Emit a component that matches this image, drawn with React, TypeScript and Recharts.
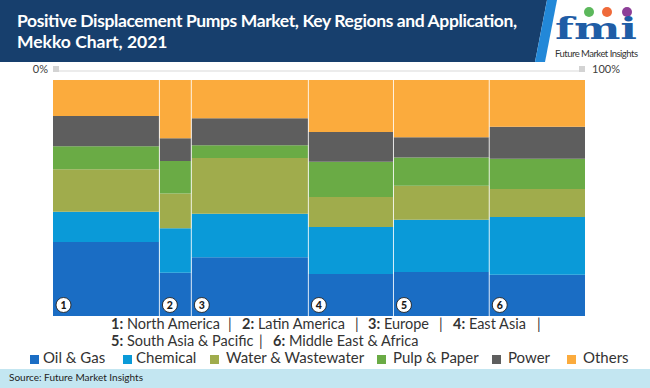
import { ComposedChart, Area, XAxis, YAxis, ReferenceLine, ReferenceDot } from 'recharts';

// regions in column order, with their share of the total market (column widths, %)
const regions = ['North America', 'Latin America', 'Europe', 'East Asia', 'South Asia & Pacific', 'Middle East & Africa'];
const regionShare = [20, 6, 22, 16, 18, 18];

// application split inside every region (%), read bottom to top
const oilGas = [31.4, 18.3, 24.9, 17.8, 18.6, 17.5];
const chemical = [12.8, 18.9, 18.4, 19.9, 22.2, 24.4];
const waterWastewater = [18.0, 14.7, 23.7, 12.7, 14.4, 11.9];
const pulpPaper = [9.7, 13.8, 5.4, 15.0, 12.0, 12.8];
const power = [12.8, 9.6, 11.4, 12.6, 8.5, 13.6];
const others = [15.3, 24.7, 16.2, 22.0, 24.3, 19.8];

const axisTicks = [0, 100];

const series = [
  { key: 'oil', name: 'Oil & Gas', values: oilGas, color: '#1a6dc4' },
  { key: 'chemical', name: 'Chemical', values: chemical, color: '#0a9ad8' },
  { key: 'water', name: 'Water & Wastewater', values: waterWastewater, color: '#a0ac4c' },
  { key: 'pulp', name: 'Pulp & Paper', values: pulpPaper, color: '#6aab45' },
  { key: 'power', name: 'Power', values: power, color: '#5e5e5e' },
  { key: 'others', name: 'Others', values: others, color: '#fbab3d' },
];

const starts = regionShare.map((_, i) => regionShare.slice(0, i).reduce((s, v) => s + v, 0));

const rows = regions.map((region, i) => {
  const row: Record<string, number | string> = { x: starts[i], region };
  series.forEach((s) => { row[s.key] = s.values[i]; });
  return row;
});
// closing point so the last step reaches 100%
const data = [...rows, { ...rows[rows.length - 1], x: 100 }];

const FONT = 'Lato, "Open Sans", sans-serif';

function EdgeTick(props: any) {
  const { x, y, payload } = props;
  const left = payload.value === 0;
  return (
    <g>
      <rect x={left ? x : x - 6} y={y - 3} width={6} height={6} fill="#d3d3d3" />
      <text
        x={left ? x - 5 : x + 7}
        y={y + 4}
        textAnchor={left ? 'end' : 'start'}
        fontSize={11}
        fontFamily={FONT}
        fill="#404040"
      >
        {payload.value}%
      </text>
    </g>
  );
}

function RegionBadge(n: number) {
  return (p: any) => (
    <g>
      <circle cx={p.cx + 10.5} cy={p.cy - 11} r={7.5} fill="#fff" stroke="#222" strokeWidth={0.9} />
      <text
        x={p.cx + 10.5}
        y={p.cy - 7.3}
        textAnchor="middle"
        fontSize={10.5}
        fontWeight={900}
        fontFamily={FONT}
        fill="#1a1a1a"
      >
        {n}
      </text>
    </g>
  );
}

// region key text, two rows
const keyRows = [
  { y: 329, items: [0, 1, 2, 3], x: [111, 242, 368, 453], bars: [228, 355, 439, 537] },
  { y: 346, items: [4, 5], x: [111, 273], bars: [259] },
];
const legendSquareX = [30, 123, 210, 377, 492, 567];
const legendTextX = [43, 136, 226, 393, 508, 583];

export default function App() {
  return (
    <div style={{ position: 'fixed', left: 0, top: 0, width: 650, height: 388, background: '#fff', overflow: 'hidden' }}>
      <svg width={650} height={388} style={{ position: 'absolute', left: 0, top: 0 }}>
        <polygon points="0,0 547,0 535,62 0,62" fill="#173f6d" />
        <polygon points="547,0 557,0 545,62 535,62" fill="#2288d8" />
        <text x={17} y={27} fontSize={17.5} fontWeight={700} fontFamily={FONT} fill="#fff" textLength={500}>
          Positive Displacement Pumps Market, Key Regions and Application,
        </text>
        <text x={17} y={48} fontSize={17.5} fontWeight={700} fontFamily={FONT} fill="#fff">
          Mekko Chart, 2021
        </text>

        <circle cx={589} cy={12} r={5} fill="#5cb85c" />
        <circle cx={607} cy={12} r={5} fill="#ef6a3a" />
        <circle cx={627} cy={12} r={5} fill="#8d3f98" />
        <text
          x={555}
          y={39}
          fontSize={30}
          fontWeight={700}
          fontFamily='"DejaVu Serif", serif'
          fill="#1f5da6"
          textLength={82}
          lengthAdjust="spacingAndGlyphs"
        >
          fmi
        </text>
        <text x={555} y={57} fontSize={9.5} fontFamily={FONT} fill="#333" textLength={83}>
          Future Market Insights
        </text>

        {keyRows.map((r) => (
          <g key={r.y}>
            {r.items.map((idx, j) => (
              <text key={idx} x={r.x[j]} y={r.y} fontSize={14.5} fontFamily={FONT} fill="#333">
                <tspan fontWeight={700}>{idx + 1}:</tspan> {regions[idx]}
              </text>
            ))}
            {r.bars.map((bx) => (
              <text key={bx} x={bx} y={r.y} fontSize={14.5} fontFamily={FONT} fill="#333">|</text>
            ))}
          </g>
        ))}

        {series.map((s, i) => (
          <g key={s.key}>
            <rect x={legendSquareX[i]} y={355} width={9} height={9} fill={s.color} />
            <text x={legendTextX[i]} y={363} fontSize={15} fontFamily={FONT} fill="#333">{s.name}</text>
          </g>
        ))}

        <rect x={0} y={369} width={650} height={19} fill="#c3e6f1" />
        <text x={9} y={381} fontSize={10} fontFamily={FONT} fill="#222">Source: Future Market Insights</text>
      </svg>

      <div style={{ position: 'absolute', left: 0, top: 0 }}>
        <ComposedChart width={650} height={388} data={data} margin={{ top: 51, right: 65, bottom: 72, left: 53 }}>
          <XAxis
            type="number"
            dataKey="x"
            orientation="top"
            domain={[0, 100]}
            ticks={axisTicks}
            height={20}
            tickSize={0}
            tickLine={false}
            axisLine={{ stroke: '#d9d9d9' }}
            tick={<EdgeTick />}
            interval={0}
          />
          <YAxis type="number" domain={[0, 100]} hide padding={{ top: 9, bottom: 0 }} />
          {series.map((s) => (
            <Area
              key={s.key}
              type="stepAfter"
              dataKey={s.key}
              name={s.name}
              stackId="mekko"
              stroke="none"
              fill={s.color}
              fillOpacity={1}
              dot={false}
              activeDot={false}
              isAnimationActive={false}
            />
          ))}
          {starts.slice(1).map((x) => (
            <ReferenceLine key={x} x={x} stroke="#ffffff" strokeOpacity={0.85} strokeWidth={1} />
          ))}
          {starts.map((x, i) => (
            <ReferenceDot key={i} x={x} y={0} r={7} shape={RegionBadge(i + 1)} />
          ))}
        </ComposedChart>
      </div>
    </div>
  );
}
